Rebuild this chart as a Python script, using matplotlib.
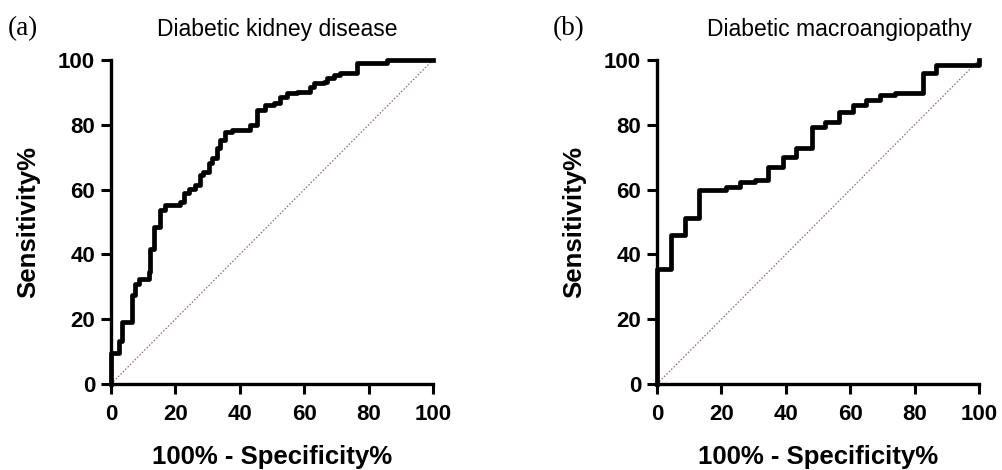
import matplotlib
matplotlib.use("Agg")
import matplotlib.pyplot as plt

# Panel (a): Diabetic kidney disease ROC (step vertices, steps-post)
fpr_a = [0, 0, 2.4, 3.4, 6.5, 7.5, 8.6, 11.7, 12.2, 13.2, 15.3, 16.9, 21.5, 22.6, 24.1,
         26.0, 27.7, 28.6, 30.3, 31.3, 33.0, 34.0, 35.4, 37.5, 43.2, 45.2, 47.8, 50.5,
         52.6, 54.7, 57.8, 61.9, 62.9, 66.0, 67.1, 69.1, 71.2, 76.4, 85.7, 100]
tpr_a = [0, 9.5, 13.4, 19.1, 27.4, 31.0, 32.5, 34.6, 41.8, 48.5, 53.6, 55.2, 56.2, 58.8, 60.3,
         61.4, 64.5, 65.5, 68.1, 69.6, 72.7, 75.3, 77.8, 78.4, 80.0, 84.5, 86.1, 86.6,
         88.7, 89.7, 90.2, 91.7, 92.8, 93.3, 94.3, 95.4, 95.9, 99.0, 100, 100]

# Panel (b): Diabetic macroangiopathy ROC
fpr_b = [0, 0, 4.5, 8.6, 13.0, 21.5, 25.9, 30.3, 34.5, 39.1, 43.3, 48.1, 52.1, 56.5,
         60.9, 65.0, 69.4, 73.8, 82.6, 86.8, 100]
tpr_b = [0, 35.6, 45.9, 51.1, 60.0, 60.8, 62.2, 63.0, 67.0, 70.1, 72.7, 79.4, 80.9, 84.0,
         86.1, 87.6, 89.2, 89.9, 95.9, 98.5, 100]

titles = ["Diabetic kidney disease", "Diabetic macroangiopathy"]
panel_tags = ["(a)", "(b)"]
ticks = [0, 20, 40, 60, 80, 100]
xlabel = "100% - Specificity%"
ylabel = "Sensitivity%"

plt.rcParams['font.family'] = ['Liberation Sans', 'DejaVu Sans']

fig = plt.figure(figsize=(10.02, 4.70), dpi=100)
W, H = 1002, 470
axes_px = [(111, 433), (657, 979)]
top_px, bot_px = 60, 384
title_cx = [277, 839]
tag_x = [8, 553]

for i, (fx, ty) in enumerate([(fpr_a, tpr_a), (fpr_b, tpr_b)]):
    l, r = axes_px[i]
    ax = fig.add_axes([l / W, 1 - bot_px / H, (r - l) / W, (bot_px - top_px) / H])
    ax.plot([0, 100], [0, 100], linestyle=(0, (1.2, 1.5)), color='#8a6a7c', lw=0.9)
    ax.plot(fx, ty, drawstyle='steps-post', color='black', lw=3.4,
            solid_joinstyle='round', clip_on=False, zorder=5)
    ax.set_xlim(0, 100)
    ax.set_ylim(0, 100)
    ax.set_xticks(ticks)
    ax.set_yticks(ticks)
    for s in ['top', 'right']:
        ax.spines[s].set_visible(False)
    for s in ['left', 'bottom']:
        ax.spines[s].set_linewidth(2.4)
    ax.tick_params(direction='out', length=7.5, width=2.2, labelsize=16)
    ax.tick_params(axis='x', pad=7)
    ax.tick_params(axis='y', pad=4)
    for lab in ax.get_xticklabels() + ax.get_yticklabels():
        lab.set_fontweight('bold')
    ax.set_xlabel(xlabel, fontsize=18.5, fontweight='bold', labelpad=14)
    ax.set_ylabel(ylabel, fontsize=18.5, fontweight='bold', labelpad=13)
    fig.text(title_cx[i] / W, 1 - 36 / H, titles[i], ha='center', va='baseline',
             fontsize=16.5)
    fig.text(tag_x[i] / W, 1 - 35 / H, panel_tags[i], ha='left', va='baseline',
             fontsize=19.5, family='Liberation Serif')

fig.savefig('out.png', dpi=100)
